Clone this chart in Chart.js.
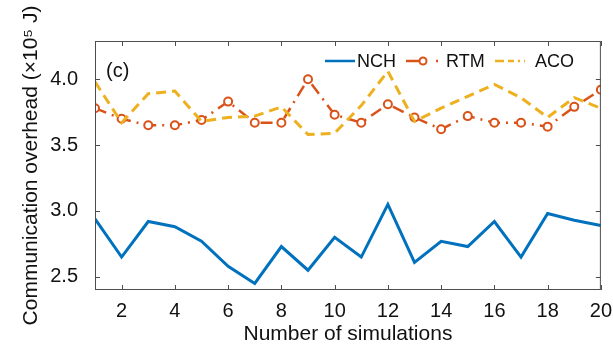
<!DOCTYPE html>
<html>
<head>
<meta charset="utf-8">
<script src="https://cdn.jsdelivr.net/npm/chart.js@4.4.0/dist/chart.umd.min.js"></script>
<style>
  html, body { margin: 0; padding: 0; background: #fff; }
  #wrap { width: 613px; height: 347px; }
</style>
</head>
<body>
<div id="wrap"><canvas id="chart" width="613" height="347"></canvas></div>
<script>
// Data
const runs = [1, 2, 3, 4, 5, 6, 7, 8, 9, 10, 11, 12, 13, 14, 15, 16, 17, 18, 19, 20];
const nchValues = [2.94, 2.65, 2.92, 2.88, 2.77, 2.58, 2.45, 2.73, 2.55, 2.80, 2.65, 3.05, 2.61, 2.77, 2.73, 2.92, 2.65, 2.98, 2.93, 2.89];
const rtmValues = [3.78, 3.70, 3.65, 3.65, 3.69, 3.83, 3.67, 3.67, 4.00, 3.73, 3.67, 3.81, 3.71, 3.62, 3.72, 3.67, 3.67, 3.64, 3.79, 3.92];
const acoValues = [3.98, 3.67, 3.89, 3.91, 3.68, 3.71, 3.72, 3.79, 3.58, 3.59, 3.80, 4.06, 3.68, 3.78, 3.87, 3.96, 3.86, 3.71, 3.86, 3.78];
const xTicks = [2, 4, 6, 8, 10, 12, 14, 16, 18, 20];
const yTicks = [2.5, 3.0, 3.5, 4.0];

const FONT = '"Liberation Sans", Arial, sans-serif';
const NCH_COLOR = '#0072BD';
const RTM_COLOR = '#D95319';
const ACO_COLOR = '#EDB120';

function toPoints(values) {
    return runs.map(function(r, i) { return { x: r, y: values[i] }; });
}

// Box around the plot with inward tick marks, plus the "(c)" tag and legend
const framePlugin = {
    id: 'frame',
    afterDraw: function(chart) {
        const ctx = chart.ctx;
        const a = chart.chartArea;
        const xs = chart.scales.x;
        const ys = chart.scales.y;
        ctx.save();
        ctx.strokeStyle = '#4d4d4d';
        ctx.lineWidth = 1;
        ctx.strokeRect(a.left + 0.5, a.top + 0.5, a.right - a.left - 1, a.bottom - a.top - 1);
        ctx.beginPath();
        xTicks.forEach(function(t) {
            const px = Math.round(xs.getPixelForValue(t)) + 0.5;
            ctx.moveTo(px, a.bottom); ctx.lineTo(px, a.bottom - 5);
            ctx.moveTo(px, a.top); ctx.lineTo(px, a.top + 5);
        });
        yTicks.forEach(function(t) {
            const py = Math.round(ys.getPixelForValue(t)) + 0.5;
            ctx.moveTo(a.left, py); ctx.lineTo(a.left + 5, py);
            ctx.moveTo(a.right, py); ctx.lineTo(a.right - 5, py);
        });
        ctx.stroke();

        // panel tag
        ctx.fillStyle = '#111';
        ctx.font = '20px ' + FONT;
        ctx.textBaseline = 'middle';
        ctx.textAlign = 'left';
        ctx.fillText('(c)', 106, 71);

        // legend
        const ly = 61;
        ctx.font = '18px ' + FONT;
        ctx.lineWidth = 2.5;
        ctx.strokeStyle = NCH_COLOR;
        ctx.setLineDash([]);
        ctx.beginPath(); ctx.moveTo(325, ly); ctx.lineTo(355, ly); ctx.stroke();
        ctx.fillText('NCH', 357, ly + 1);

        ctx.strokeStyle = RTM_COLOR;
        ctx.beginPath(); ctx.moveTo(406, ly); ctx.lineTo(420, ly); ctx.stroke();
        ctx.beginPath(); ctx.arc(423, ly, 3.5, 0, Math.PI * 2);
        ctx.fillStyle = '#fff'; ctx.fill(); ctx.lineWidth = 2; ctx.stroke();
        ctx.lineWidth = 2.5;
        ctx.beginPath(); ctx.moveTo(436, ly); ctx.lineTo(438, ly); ctx.stroke();
        ctx.fillStyle = '#111';
        ctx.fillText('RTM', 446, ly + 1);

        ctx.strokeStyle = ACO_COLOR;
        ctx.setLineDash([9, 4, 6, 4, 2, 4]);
        ctx.beginPath(); ctx.moveTo(495, ly); ctx.lineTo(525, ly); ctx.stroke();
        ctx.setLineDash([]);
        ctx.fillText('ACO', 535, ly + 1);
        ctx.restore();
    }
};

new Chart(document.getElementById('chart'), {
    type: 'line',
    data: {
        datasets: [
            {
                label: 'NCH',
                data: toPoints(nchValues),
                borderColor: NCH_COLOR,
                borderWidth: 3,
                pointRadius: 0,
                tension: 0,
                order: 2
            },
            {
                label: 'RTM',
                data: toPoints(rtmValues),
                borderColor: RTM_COLOR,
                borderWidth: 2.5,
                borderDash: [12, 6, 2, 6],
                pointRadius: 4,
                pointBorderWidth: 2,
                pointBorderColor: RTM_COLOR,
                pointBackgroundColor: '#fff',
                tension: 0,
                order: 1
            },
            {
                label: 'ACO',
                data: toPoints(acoValues),
                borderColor: ACO_COLOR,
                borderWidth: 3,
                borderDash: [10, 6],
                pointRadius: 0,
                tension: 0,
                order: 0
            }
        ]
    },
    options: {
        responsive: false,
        animation: false,
        layout: { padding: { left: 0, top: 41, right: 7, bottom: 0 }, autoPadding: false },
        plugins: {
            legend: { display: false },
            tooltip: { enabled: false }
        },
        scales: {
            x: {
                type: 'linear',
                min: 1,
                max: 20,
                grid: { display: false },
                border: { display: false },
                afterBuildTicks: function(axis) {
                    axis.ticks = xTicks.map(function(v) { return { value: v }; });
                },
                afterFit: function(axis) { axis.height = 57; },
                ticks: {
                    color: '#111',
                    font: { family: FONT, size: 20 },
                    padding: 1,
                    maxRotation: 0
                },
                title: {
                    display: true,
                    text: 'Number of simulations',
                    color: '#111',
                    font: { family: FONT, size: 21 },
                    padding: { top: 0, bottom: 0 }
                }
            },
            y: {
                min: 2.4,
                max: 4.29,
                grid: { display: false },
                border: { display: false },
                afterBuildTicks: function(axis) {
                    axis.ticks = yTicks.map(function(v) { return { value: v }; });
                },
                afterFit: function(axis) { axis.width = 95; },
                ticks: {
                    color: '#111',
                    font: { family: FONT, size: 20 },
                    padding: 9,
                    callback: function(v) { return Number(v).toFixed(1); }
                },
                title: {
                    display: true,
                    text: 'Communication overhead (×10⁵ J)',
                    color: '#111',
                    font: { family: FONT, size: 21 },
                    padding: { top: 19, bottom: 0 }
                }
            }
        }
    },
    plugins: [framePlugin]
});
</script>
</body>
</html>
